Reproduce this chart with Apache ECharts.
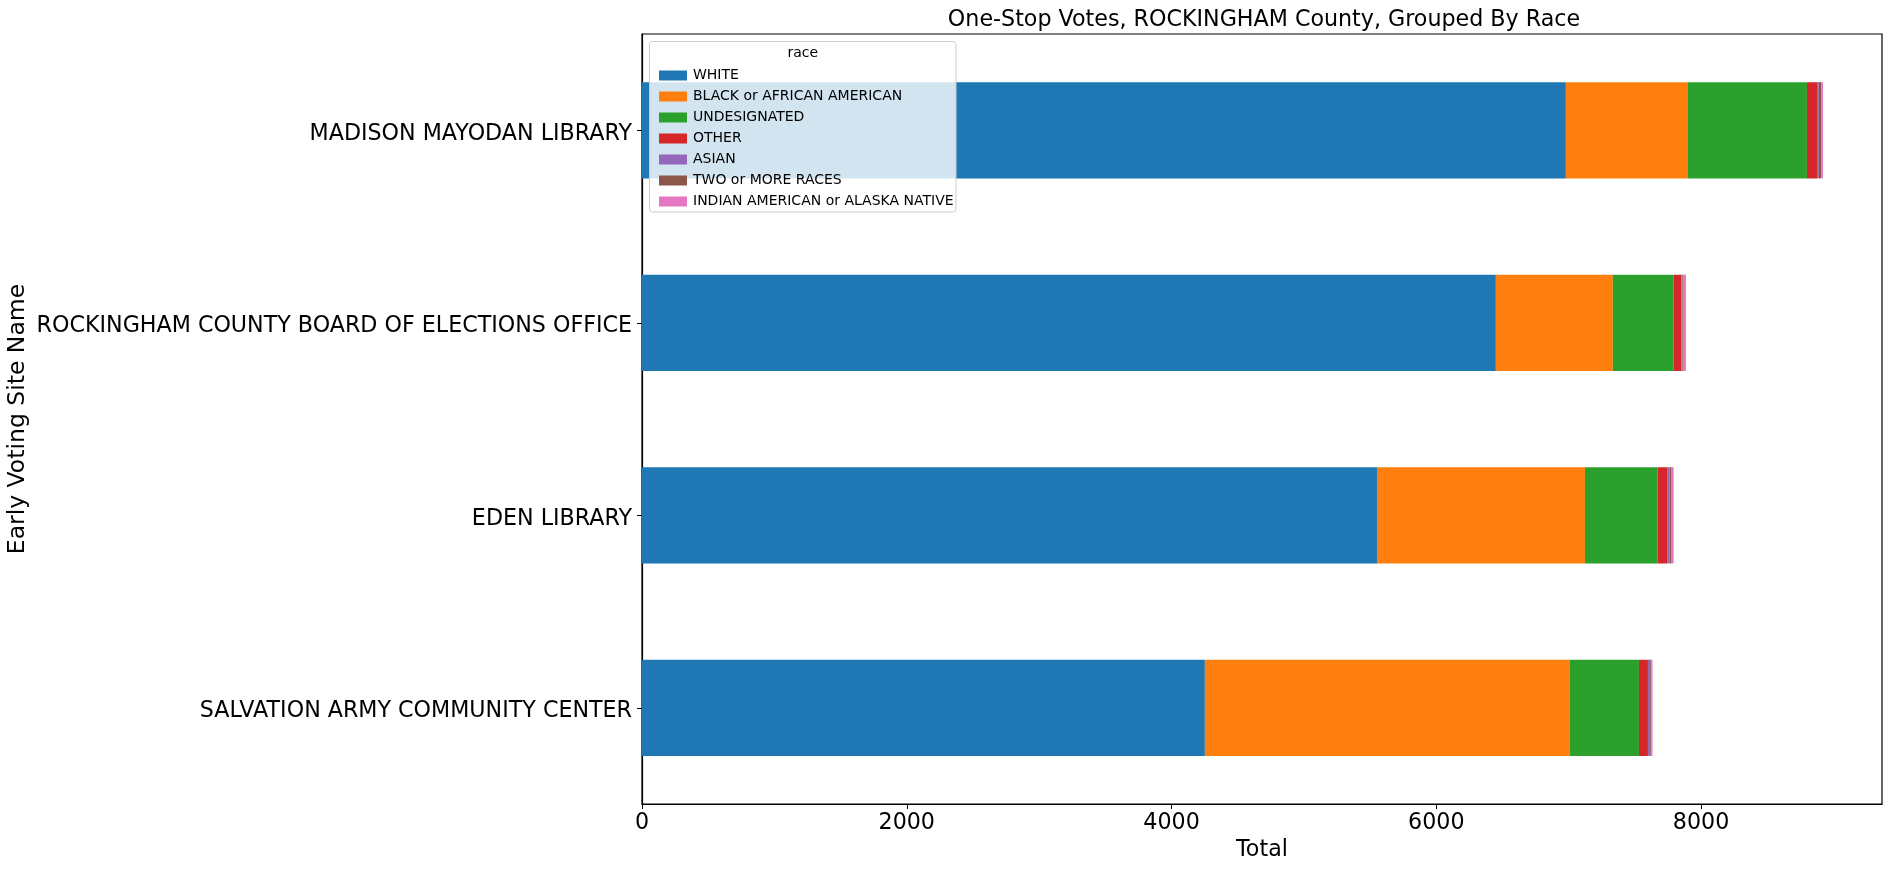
<!DOCTYPE html>
<html>
<head>
<meta charset="utf-8">
<script src="https://cdn.jsdelivr.net/npm/echarts@6/dist/echarts.min.js"></script>
<style>
html,body{margin:0;padding:0;background:#fff;}
#chart{width:1891px;height:869px;}
</style>
</head>
<body>
<div id="chart"></div>
<script>
const categories = ['SALVATION ARMY COMMUNITY CENTER', 'EDEN LIBRARY', 'ROCKINGHAM COUNTY BOARD OF ELECTIONS OFFICE', 'MADISON MAYODAN LIBRARY'];
const raceNames = ['WHITE', 'BLACK or AFRICAN AMERICAN', 'UNDESIGNATED', 'OTHER', 'ASIAN', 'TWO or MORE RACES', 'INDIAN AMERICAN or ALASKA NATIVE'];
const white = [4252, 5557, 6450, 6979];
const blackAfAm = [2757, 1566, 884, 922];
const undesignated = [522, 549, 459, 899];
const other = [68, 76, 58, 76];
const asian = [17, 15, 8, 14];
const twoOrMore = [8, 10, 9, 17];
const indianAm = [10, 20, 18, 14];
const xTicks = [0, 2000, 4000, 6000, 8000];
const colors = ['#1f77b4', '#ff7f0e', '#2ca02c', '#d62728', '#9467bd', '#8c564b', '#e377c2'];

const seriesValues = [white, blackAfAm, undesignated, other, asian, twoOrMore, indianAm];
const totals = categories.map((_, i) => seriesValues.reduce((s, arr) => s + arr[i], 0));
const xMax = Math.max(...totals) * 1.05;

const FONT = 'DejaVu Sans';
const chart = echarts.init(document.getElementById('chart'), null, {renderer: 'canvas'});
chart.setOption({
  animation: false,
  backgroundColor: '#ffffff',
  title: {
    text: 'One-Stop Votes, ROCKINGHAM County, Grouped By Race',
    left: 1259, top: 4, textAlign: 'center',
    textStyle: {fontFamily: FONT, fontSize: 22.2, fontWeight: 'normal', color: '#000'}
  },
  grid: {left: 642, right: 9, top: 34, bottom: 65, show: true, borderColor: '#000', borderWidth: 1.2,
         backgroundColor: 'transparent', containLabel: false, outerBoundsMode: 'none'},
  legend: {
    orient: 'vertical', left: 654, top: 63.5, z: 20,
    data: raceNames, icon: 'rect', itemWidth: 28, itemHeight: 10, itemGap: 7,
    selectedMode: false,
    textStyle: {fontFamily: FONT, fontSize: 14, color: '#000', lineHeight: 14, padding: [0, 0, 0, 1]}
  },
  graphic: [
    {type: 'rect', z: 15, shape: {x: 649.5, y: 41.5, width: 306.5, height: 170.5, r: 3},
     style: {fill: 'rgba(255,255,255,0.8)', stroke: '#cccccc', lineWidth: 1}},
    {type: 'text', z: 16, x: 802.7, y: 53.3,
     style: {text: 'race', fontFamily: FONT, fontSize: 14, fill: '#000', textAlign: 'center', textVerticalAlign: 'middle'}}
  ],
  xAxis: {
    type: 'value', min: 0, max: xMax,
    name: 'Total', nameLocation: 'middle', nameGap: 32,
    nameTextStyle: {fontFamily: FONT, fontSize: 22.2, color: '#000'},
    axisLine: {show: true, lineStyle: {color: '#000', width: 1.2}},
    axisTick: {show: true, length: 5, lineStyle: {color: '#000', width: 1}, customValues: xTicks},
    axisLabel: {fontFamily: FONT, fontSize: 22.2, color: '#000', margin: 8, customValues: xTicks,
                formatter: v => String(v)},
    splitLine: {show: false}
  },
  yAxis: {
    type: 'category', data: categories,
    name: 'Early Voting Site Name', nameLocation: 'middle', nameGap: 612, nameRotate: 90,
    nameMoveOverlap: false,
    nameTextStyle: {fontFamily: FONT, fontSize: 23.5, color: '#000'},
    axisLine: {show: true, lineStyle: {color: '#000', width: 1.2}},
    axisTick: {show: true, length: 5, alignWithLabel: true, lineStyle: {color: '#000', width: 1}},
    axisLabel: {fontFamily: FONT, fontSize: 22.2, color: '#000', margin: 10,
                formatter: v => '{a|' + v + '}',
                rich: {a: {fontFamily: FONT, fontSize: 22.2, color: '#000', padding: [7, 0, 0, 0]}}},
    splitLine: {show: false}
  },
  series: raceNames.map((name, k) => ({
    name: name, type: 'bar', stack: 'total', barWidth: '50%',
    data: seriesValues[k],
    itemStyle: {color: colors[k]},
    emphasis: {disabled: true}
  }))
});
</script>
</body>
</html>
